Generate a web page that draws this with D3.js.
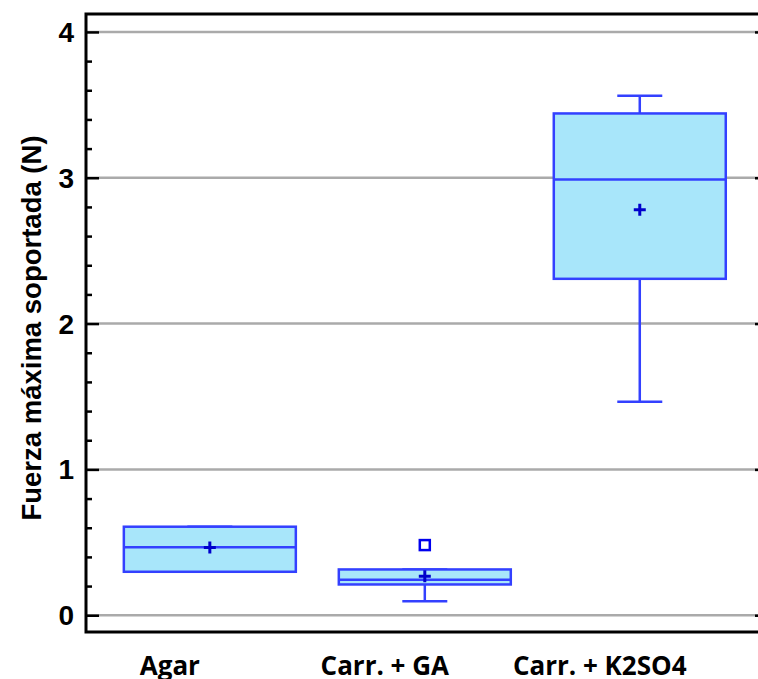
<!DOCTYPE html>
<html>
<head>
<meta charset="utf-8">
<script src="https://cdn.jsdelivr.net/npm/d3@7"></script>
<style>
  body { margin: 0; background: #fff; }
  svg { display: block; }
</style>
</head>
<body>
<svg id="chart"></svg>
<script>
// box plot data
const categories = ['Agar', 'Carr. + GA', 'Carr. + K2SO4'];
const whiskerLow = [0.298, 0.096, 1.464];
const q1 = [0.298, 0.211, 2.307];
const median = [0.467, 0.244, 2.988];
const q3 = [0.607, 0.314, 3.441];
const whiskerHigh = [0.607, 0.314, 3.562];
const means = [0.465, 0.268, 2.781];
const outliers = [[], [0.481], []];
const yTicks = [0, 1, 2, 3, 4];

const width = 758, height = 679;
const margin = { top: 14, right: 0, bottom: 47, left: 86 };

const svg = d3.select('#chart')
    .attr('width', width)
    .attr('height', height);

const y = d3.scaleLinear()
    .domain([-0.115, 4.123])
    .range([height - margin.bottom, margin.top]);

const x = d3.scaleBand()
    .domain(categories)
    .range([margin.left, width - margin.right])
    .paddingInner(0.2)
    .paddingOuter(0.163)
    .align(0.54);

const boxes = categories.map((c, i) => ({
    cat: c, lo: whiskerLow[i], q1: q1[i], med: median[i], q3: q3[i],
    hi: whiskerHigh[i], mean: means[i], out: outliers[i]
}));

// grid lines
svg.append('g')
    .selectAll('line')
    .data(yTicks)
    .enter()
    .append('line')
    .attr('x1', margin.left)
    .attr('x2', width)
    .attr('y1', d => y(d))
    .attr('y2', d => y(d))
    .attr('stroke', '#aaaaaa')
    .attr('stroke-width', 2.5);

// left axis: ticks drawn inward
const minorTicks = d3.range(0, 4.01, 0.2).filter(v => Math.abs(v - Math.round(v)) > 1e-6);
const yAxis = d3.axisRight(y).tickValues(yTicks).tickSize(13).tickFormat('');
const gy = svg.append('g')
    .attr('transform', `translate(${margin.left},0)`)
    .call(yAxis);
gy.select('.domain').remove();
gy.selectAll('line').attr('stroke', '#000').attr('stroke-width', 2.5);

const gyMinor = svg.append('g')
    .attr('transform', `translate(${margin.left},0)`)
    .call(d3.axisRight(y).tickValues(minorTicks).tickSize(6).tickFormat(''));
gyMinor.select('.domain').remove();
gyMinor.selectAll('line').attr('stroke', '#000').attr('stroke-width', 2.5);

// right side ticks (edge of picture)
const gyRight = svg.append('g')
    .attr('transform', `translate(${width},0)`)
    .call(d3.axisLeft(y).tickValues(yTicks).tickSize(3).tickFormat(''));
gyRight.select('.domain').remove();
gyRight.selectAll('line').attr('stroke', '#000').attr('stroke-width', 2.5);

// tick labels
svg.append('g')
    .selectAll('text')
    .data(yTicks)
    .enter()
    .append('text')
    .attr('x', margin.left - 12)
    .attr('y', d => y(d))
    .attr('dy', '0.36em')
    .attr('text-anchor', 'end')
    .attr('font-family', 'Liberation Sans, Arial, sans-serif')
    .attr('font-weight', 'bold')
    .attr('font-size', 28)
    .text(d => d);

// frame: left, top, bottom
const [yBottom, yTop] = y.range();
svg.append('path')
    .attr('d', `M${width},${yTop}H${margin.left}V${yBottom}H${width}`)
    .attr('fill', 'none')
    .attr('stroke', '#000')
    .attr('stroke-width', 3);

// boxes
const boxColor = '#3340ff';
const capW = 45;
const g = svg.append('g')
    .selectAll('g')
    .data(boxes)
    .enter()
    .append('g');

g.append('line')
    .attr('x1', d => x(d.cat) + x.bandwidth() / 2)
    .attr('x2', d => x(d.cat) + x.bandwidth() / 2)
    .attr('y1', d => y(d.lo))
    .attr('y2', d => y(d.hi))
    .attr('stroke', boxColor)
    .attr('stroke-width', 2.5);

g.selectAll('.cap')
    .data(d => [d.lo, d.hi].map(v => ({ cat: d.cat, v })))
    .enter()
    .append('line')
    .attr('class', 'cap')
    .attr('x1', d => x(d.cat) + x.bandwidth() / 2 - capW / 2)
    .attr('x2', d => x(d.cat) + x.bandwidth() / 2 + capW / 2)
    .attr('y1', d => y(d.v))
    .attr('y2', d => y(d.v))
    .attr('stroke', boxColor)
    .attr('stroke-width', 2.5);

g.append('rect')
    .attr('x', d => x(d.cat))
    .attr('y', d => y(d.q3))
    .attr('width', x.bandwidth())
    .attr('height', d => y(d.q1) - y(d.q3))
    .attr('fill', '#a8e6fa')
    .attr('stroke', boxColor)
    .attr('stroke-width', 2.5);

g.append('line')
    .attr('x1', d => x(d.cat))
    .attr('x2', d => x(d.cat) + x.bandwidth())
    .attr('y1', d => y(d.med))
    .attr('y2', d => y(d.med))
    .attr('stroke', boxColor)
    .attr('stroke-width', 2.5);

// mean marker (+)
g.append('path')
    .attr('d', d => {
        const cx = x(d.cat) + x.bandwidth() / 2, cy = y(d.mean);
        return `M${cx - 6},${cy}H${cx + 6}M${cx},${cy - 6}V${cy + 6}`;
    })
    .attr('stroke', '#0000cc')
    .attr('stroke-width', 3);

// outliers
g.selectAll('.out')
    .data(d => d.out.map(v => ({ cat: d.cat, v })))
    .enter()
    .append('rect')
    .attr('class', 'out')
    .attr('x', d => x(d.cat) + x.bandwidth() / 2 - 5)
    .attr('y', d => y(d.v) - 5)
    .attr('width', 10)
    .attr('height', 10)
    .attr('fill', '#fff')
    .attr('stroke', '#0000ee')
    .attr('stroke-width', 2.5);

// category labels
svg.append('g')
    .selectAll('text')
    .data(categories)
    .enter()
    .append('text')
    .attr('x', d => x(d) + x.bandwidth() / 2 - 40)
    .attr('y', 675)
    .attr('text-anchor', 'middle')
    .attr('font-family', 'Open Sans, sans-serif')
    .attr('font-weight', 'bold')
    .attr('font-size', 26)
    .text(d => d);

// y axis title
svg.append('text')
    .attr('transform', `translate(41,${(yTop + yBottom) / 2 + 5}) rotate(-90)`)
    .attr('text-anchor', 'middle')
    .attr('font-family', 'Liberation Sans, Arial, sans-serif')
    .attr('font-weight', 'bold')
    .attr('font-size', 27.5)
    .text('Fuerza máxima soportada (N)');
</script>
</body>
</html>
